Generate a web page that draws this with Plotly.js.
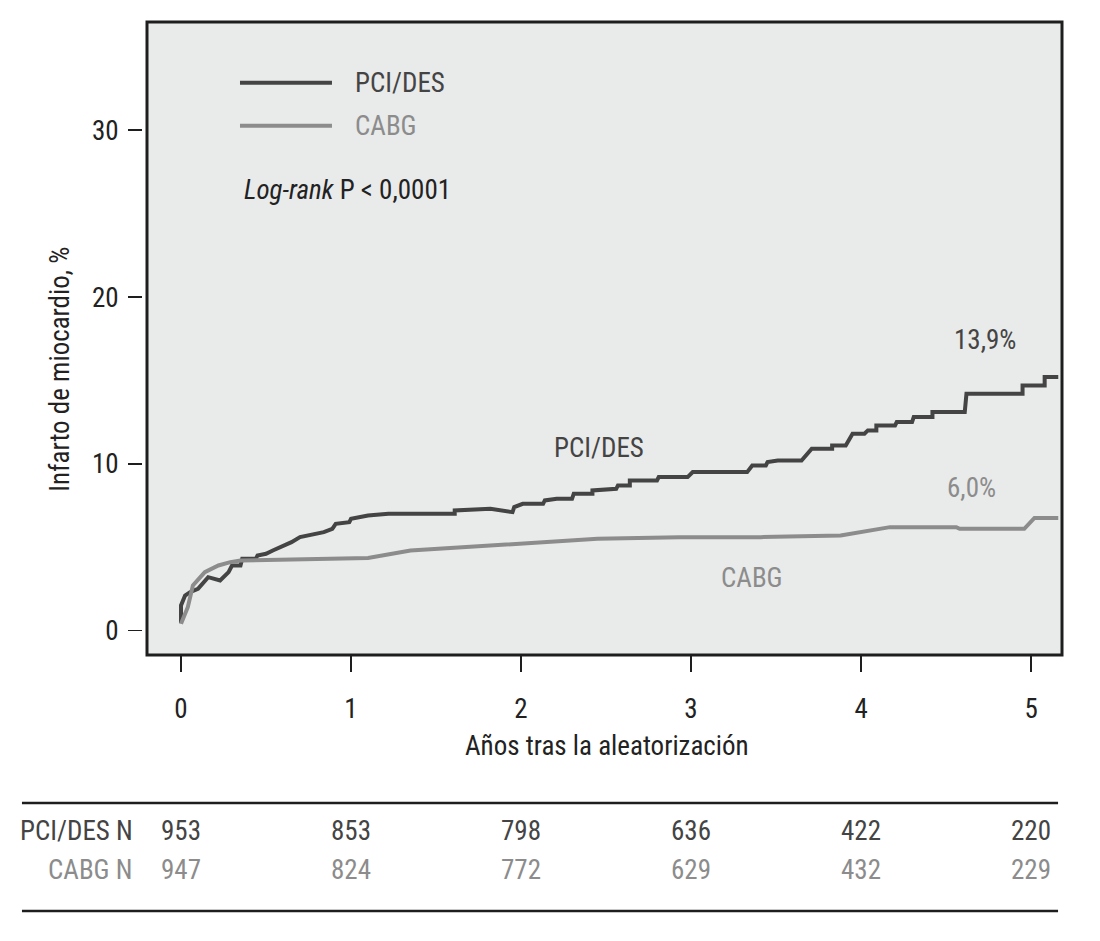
<!DOCTYPE html>
<html>
<head>
<meta charset="utf-8">
<script src="https://cdn.plot.ly/plotly-3.0.1.min.js"></script>
<style>html,body{margin:0;padding:0;background:#fff;}#chart{width:1100px;height:941px;}</style>
</head>
<body>
<div id="chart"></div>
<script>
// ---- data ----
const pciYears = [0,0,0.024,0.053,0.1,0.14,0.16,0.23,0.26,0.28,0.3,0.35,0.36,0.44,0.45,0.5,0.54,0.59,0.65,0.7,0.78,0.84,0.89,0.91,0.99,1.0,1.1,1.22,1.61,1.61,1.82,1.95,1.96,2.01,2.13,2.14,2.21,2.3,2.31,2.42,2.42,2.56,2.57,2.64,2.64,2.8,2.81,2.98,3.01,3.33,3.36,3.44,3.45,3.51,3.65,3.71,3.83,3.83,3.91,3.95,4.02,4.04,4.09,4.09,4.2,4.21,4.3,4.31,4.42,4.42,4.61,4.62,4.95,4.95,5.08,5.08,5.16];
const pciMI    = [0.44,1.5,2.1,2.3,2.5,3.0,3.2,3.0,3.3,3.5,3.9,3.9,4.3,4.3,4.5,4.6,4.8,5.0,5.3,5.6,5.8,5.9,6.1,6.4,6.5,6.7,6.9,7.0,7.0,7.2,7.3,7.1,7.4,7.6,7.6,7.8,7.9,7.9,8.2,8.2,8.4,8.5,8.7,8.7,9.0,9.0,9.2,9.2,9.5,9.5,9.9,9.9,10.1,10.2,10.2,10.9,10.9,11.1,11.1,11.8,11.8,12.0,12.0,12.3,12.3,12.5,12.5,12.8,12.8,13.1,13.1,14.2,14.2,14.7,14.7,15.2,15.2];
const cabgYears = [0,0.04,0.07,0.14,0.22,0.29,0.35,0.9,1.1,1.35,1.52,2.0,2.45,2.93,3.41,3.88,4.17,4.56,4.58,4.96,5.02,5.16];
const cabgMI    = [0.4,1.4,2.7,3.5,3.9,4.1,4.2,4.3,4.35,4.8,4.9,5.2,5.5,5.6,5.6,5.7,6.2,6.2,6.1,6.1,6.75,6.75];
const xTicks = [0,1,2,3,4,5];
const yTicks = [0,10,20,30];
const pciAtRisk  = [953,853,798,636,422,220];
const cabgAtRisk = [947,824,772,629,432,229];
const seriesNames = ['PCI/DES','CABG'];
const finalLabels = ['13,9%','6,0%'];

// ---- style ----
const FONT = 'Liberation Sans Narrow, Roboto Condensed, Arial Narrow, sans-serif';
const DARK = '#444444';
const GREY = '#8c8c8c';
const TXT = '#222222';
const FS = 27;

const traces = [
  {x: pciYears, y: pciMI, mode: 'lines', line: {color: DARK, width: 4, shape: 'linear'}, name: seriesNames[0], hoverinfo: 'skip'},
  {x: cabgYears, y: cabgMI, mode: 'lines', line: {color: GREY, width: 4, shape: 'linear'}, name: seriesNames[1], hoverinfo: 'skip'}
];

const annotations = [];
function ann(o){ annotations.push(Object.assign({showarrow:false, font:{family:FONT,size:FS,color:TXT}}, o)); }

// legend texts
ann({x:1.01, y:32.85, xref:'x', yref:'y', text:seriesNames[0], xanchor:'left', font:{family:FONT,size:FS,color:DARK}});
ann({x:1.01, y:30.27, xref:'x', yref:'y', text:seriesNames[1], xanchor:'left', font:{family:FONT,size:FS,color:GREY}});
ann({x:0.36, y:26.4, xref:'x', yref:'y', text:'<i>Log-rank</i> P &lt; 0,0001', xanchor:'left', font:{family:FONT,size:FS,color:TXT}});
// curve labels
ann({x:4.73, y:17.43, xref:'x', yref:'y', text:finalLabels[0], font:{family:FONT,size:FS,color:DARK}});
ann({x:2.46, y:10.95, xref:'x', yref:'y', text:seriesNames[0], font:{family:FONT,size:FS,color:DARK}});
ann({x:4.65, y:8.55, xref:'x', yref:'y', text:finalLabels[1], font:{family:FONT,size:FS,color:GREY}});
ann({x:3.36, y:3.15, xref:'x', yref:'y', text:seriesNames[1], font:{family:FONT,size:FS,color:GREY}});
// axis titles
ann({x:0.5054, y:-0.144, xref:'paper', yref:'paper', text:'Años tras la aleatorización', yanchor:'middle'});
ann({x:-0.0904, y:0.452, xref:'paper', yref:'paper', text:'Infarto de miocardio, %', textangle:-90, xanchor:'center', yanchor:'middle'});
// risk table
ann({x:-0.0087, y:-0.278, xref:'paper', yref:'paper', text:'PCI/DES N', xanchor:'right', yanchor:'middle', font:{family:FONT,size:FS,color:DARK}});
ann({x:-0.0087, y:-0.3397, xref:'paper', yref:'paper', text:'CABG N', xanchor:'right', yanchor:'middle', font:{family:FONT,size:FS,color:GREY}});
xTicks.forEach((t,i)=>{
  ann({x:t, y:-0.278, xref:'x', yref:'paper', text:String(pciAtRisk[i]), yanchor:'middle', font:{family:FONT,size:FS,color:DARK}});
  ann({x:t, y:-0.3397, xref:'x', yref:'paper', text:String(cabgAtRisk[i]), yanchor:'middle', font:{family:FONT,size:FS,color:GREY}});
});

const shapes = [
  // plot frame with grey fill
  {type:'rect', xref:'paper', yref:'paper', x0:4/919, x1:1, y0:0, y1:1, fillcolor:'#e9eaea', line:{color:'#1e1e1e', width:3}, layer:'below'},
  // legend lines
  {type:'line', xref:'x', yref:'y', x0:0.347, x1:0.888, y0:32.85, y1:32.85, line:{color:DARK, width:4}},
  {type:'line', xref:'x', yref:'y', x0:0.347, x1:0.888, y0:30.27, y1:30.27, line:{color:GREY, width:4}},
  // table rules
  {type:'line', xref:'paper', yref:'paper', x0:-0.1317, x1:0.9957, y0:-0.2338, y1:-0.2338, line:{color:'#1e1e1e', width:2.5}},
  {type:'line', xref:'paper', yref:'paper', x0:-0.1317, x1:0.9957, y0:-0.4044, y1:-0.4044, line:{color:'#1e1e1e', width:2.5}}
];

const layout = {
  width:1100, height:941,
  margin:{l:143, r:38, t:22, b:286},
  paper_bgcolor:'#ffffff', plot_bgcolor:'rgba(0,0,0,0)',
  showlegend:false,
  font:{family:FONT, size:FS, color:TXT},
  xaxis:{range:[-0.2235,5.182], tickvals:xTicks, ticktext:xTicks.map(String), ticks:'outside', ticklen:16, tickwidth:2.5, tickcolor:'#1e1e1e',
         showgrid:false, zeroline:false, showline:false, ticklabelstandoff:14, tickfont:{family:FONT,size:FS,color:TXT}},
  yaxis:{range:[-1.47,36.5], tickvals:yTicks, ticktext:yTicks.map(String), ticks:'outside', ticklen:14, tickwidth:1.8, tickcolor:'#1e1e1e',
         showgrid:false, zeroline:false, showline:false, ticklabelstandoff:4, tickfont:{family:FONT,size:FS,color:TXT}},
  shapes: shapes,
  annotations: annotations
};

Plotly.newPlot('chart', traces, layout, {staticPlot:true, displayModeBar:false});
</script>
</body>
</html>
